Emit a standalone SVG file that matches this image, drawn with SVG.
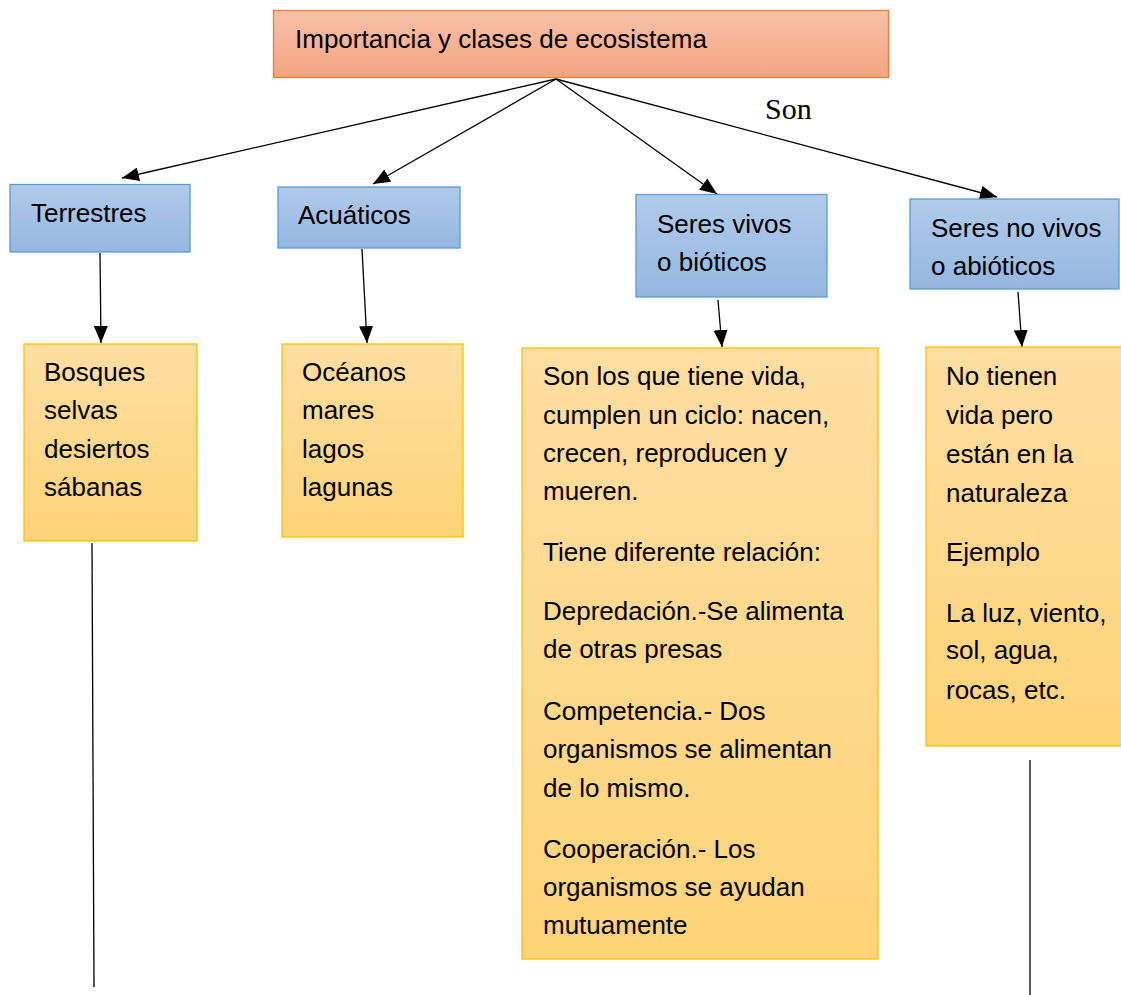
<svg xmlns="http://www.w3.org/2000/svg" width="1121" height="995" viewBox="0 0 1121 995">
<defs>
<linearGradient id="gSalmon" x1="0" y1="0" x2="0" y2="1"><stop offset="0" stop-color="#F8C1AA"/><stop offset="1" stop-color="#F4A480"/></linearGradient>
<linearGradient id="gBlue" x1="0" y1="0" x2="0" y2="1"><stop offset="0" stop-color="#B1CBEA"/><stop offset="1" stop-color="#94B7E1"/></linearGradient>
<linearGradient id="gOrange" x1="0" y1="0" x2="0" y2="1"><stop offset="0" stop-color="#FEDEA2"/><stop offset="1" stop-color="#FED478"/></linearGradient>
<marker id="ah" markerUnits="userSpaceOnUse" markerWidth="18" markerHeight="14" refX="17" refY="7" orient="auto"><path d="M0,0 L17,7 L0,14 Z" fill="#000"/></marker>
</defs>
<style>
.t{font-family:"Liberation Sans",Arial,sans-serif;font-size:26px;fill:#000}
.son{font-family:"Liberation Serif","Times New Roman",serif;font-size:30px;fill:#000}
.salmon{fill:url(#gSalmon);stroke:#ED7D31;stroke-width:1.3}
.blue{fill:url(#gBlue);stroke:#5B9BD5;stroke-width:1.3}
.orange{fill:url(#gOrange);stroke:#FFC000;stroke-width:1.3}
.c{stroke:#000;stroke-width:1.3;fill:none}
.a{marker-end:url(#ah)}
</style>
<rect width="1121" height="995" fill="#fff"/>
<g id="connectors">
<line class="c a" x1="556" y1="79" x2="122" y2="178"/>
<line class="c a" x1="556" y1="79" x2="373" y2="184"/>
<line class="c a" x1="556" y1="79" x2="717" y2="194"/>
<line class="c a" x1="556" y1="79" x2="997" y2="197"/>
<line class="c a" x1="100" y1="253" x2="101" y2="343"/>
<line class="c a" x1="362" y1="249" x2="367" y2="343"/>
<line class="c a" x1="718" y1="300" x2="722" y2="347"/>
<line class="c a" x1="1018" y1="292" x2="1022" y2="347"/>
<line class="c" x1="92" y1="543" x2="94" y2="987"/>
<line class="c" x1="1030" y1="760" x2="1030" y2="995"/>
<text class="son" x="765" y="119">Son</text>
</g>
<g id="root">
<rect class="salmon" x="273.5" y="10.5" width="615" height="67"/>
<text class="t" x="295" y="48">Importancia y clases de ecosistema</text>
</g>
<g id="terrestres">
<rect class="blue" x="10" y="184.5" width="180" height="67.5"/>
<text class="t" x="31" y="222">Terrestres</text>
</g>
<g id="acuaticos">
<rect class="blue" x="278" y="187" width="182" height="61"/>
<text class="t" x="298" y="224">Acuáticos</text>
</g>
<g id="bioticos">
<rect class="blue" x="636" y="194.5" width="191" height="102.5"/>
<text class="t" x="657" y="233">Seres vivos</text>
<text class="t" x="657" y="271">o bióticos</text>
</g>
<g id="abioticos">
<rect class="blue" x="910" y="199" width="209" height="90"/>
<text class="t" x="931" y="237">Seres no vivos</text>
<text class="t" x="931" y="275">o abióticos</text>
</g>
<g id="terrestres-ej">
<rect class="orange" x="24" y="344" width="173" height="197"/>
<text class="t" x="44" y="381">Bosques</text>
<text class="t" x="44" y="419">selvas</text>
<text class="t" x="44" y="458">desiertos</text>
<text class="t" x="44" y="496">sábanas</text>
</g>
<g id="acuaticos-ej">
<rect class="orange" x="282" y="344" width="181" height="193"/>
<text class="t" x="302" y="381">Océanos</text>
<text class="t" x="302" y="419">mares</text>
<text class="t" x="302" y="458">lagos</text>
<text class="t" x="302" y="496">lagunas</text>
</g>
<g id="bioticos-desc">
<rect class="orange" x="522" y="348" width="356" height="611"/>
<text class="t" x="543" y="385">Son los que tiene vida,</text>
<text class="t" x="543" y="424">cumplen un ciclo: nacen,</text>
<text class="t" x="543" y="462">crecen, reproducen y</text>
<text class="t" x="543" y="500">mueren.</text>
<text class="t" x="543" y="561">Tiene diferente relación:</text>
<text class="t" x="543" y="620">Depredación.-Se alimenta</text>
<text class="t" x="543" y="658">de otras presas</text>
<text class="t" x="543" y="720">Competencia.- Dos</text>
<text class="t" x="543" y="758">organismos se alimentan</text>
<text class="t" x="543" y="797">de lo mismo.</text>
<text class="t" x="543" y="858">Cooperación.- Los</text>
<text class="t" x="543" y="896">organismos se ayudan</text>
<text class="t" x="543" y="934">mutuamente</text>
</g>
<g id="abioticos-desc">
<rect class="orange" x="926" y="347" width="200" height="399"/>
<text class="t" x="946" y="385">No tienen</text>
<text class="t" x="946" y="424">vida pero</text>
<text class="t" x="946" y="463">están en la</text>
<text class="t" x="946" y="502">naturaleza</text>
<text class="t" x="946" y="561">Ejemplo</text>
<text class="t" x="946" y="622">La luz, viento,</text>
<text class="t" x="946" y="659">sol, agua,</text>
<text class="t" x="946" y="699">rocas, etc.</text>
</g>
</svg>
